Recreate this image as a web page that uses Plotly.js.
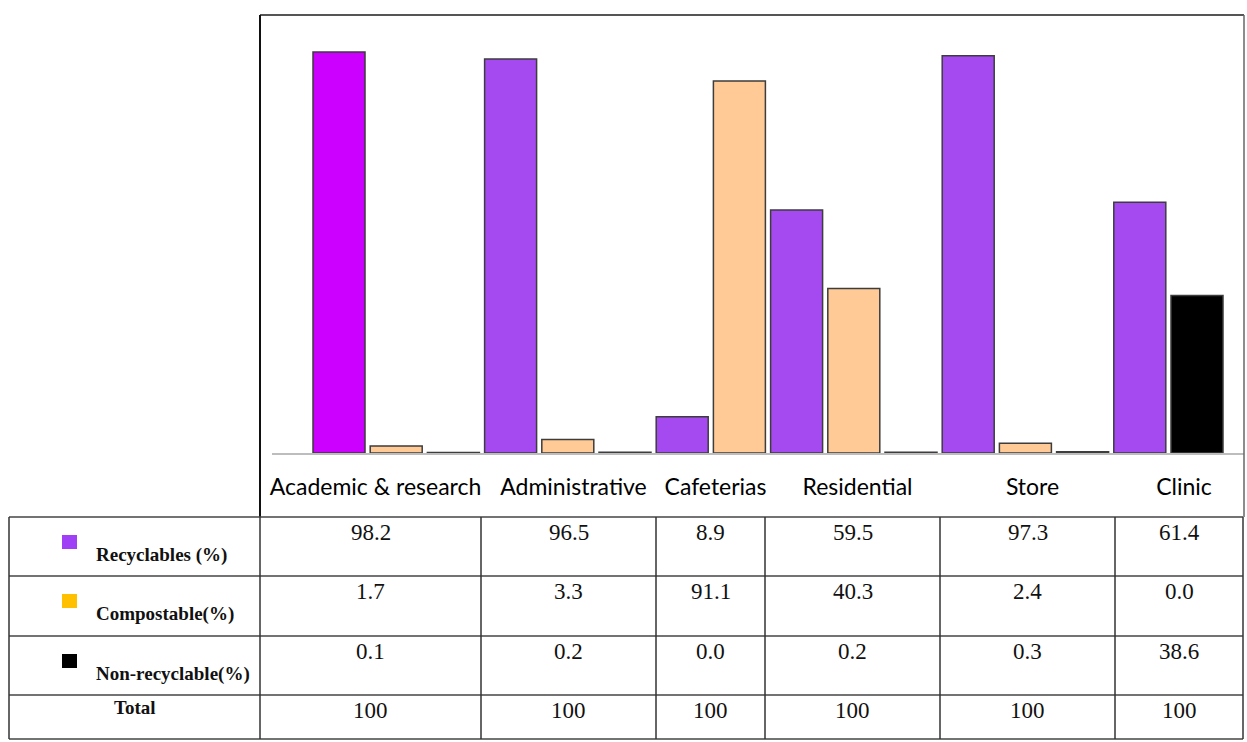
<!DOCTYPE html>
<html>
<head>
<meta charset="utf-8">
<script src="https://cdn.plot.ly/plotly-3.0.1.min.js"></script>
<style>html,body{margin:0;padding:0;background:#fff;}#chart{width:1247px;height:742px;}</style>
</head>
<body>
<div id="chart"></div>
<script>
// ---- data ----
var categories = ["Academic & research", "Administrative", "Cafeterias", "Residential", "Store", "Clinic"];
var seriesNames = ["Recyclables (%)", "Compostable(%)", "Non-recyclable(%)"];
var recyclables = [98.2, 96.5, 8.9, 59.5, 97.3, 61.4];
var compostable = [1.7, 3.3, 91.1, 40.3, 2.4, 0.0];
var nonRecyclable = [0.1, 0.2, 0.0, 0.2, 0.3, 38.6];
var totals = [100, 100, 100, 100, 100, 100];

// ---- styles ----
var W = 1247, H = 742;
var barColors = [
  ["#CC00FF", "#A54AF0", "#A54AF0", "#A54AF0", "#A54AF0", "#A54AF0"],
  "#FFCA96",
  "#000000"
];
var legendColors = ["#A040F6", "#FFC000", "#000000"];
var series = [recyclables, compostable, nonRecyclable];

// slot assignment: every non-zero bar takes one slot, groups are contiguous
var slot = 0;
var traces = [];
var traceX = [[], [], []], traceY = [[], [], []], traceC = [[], [], []];
categories.forEach(function (cat, i) {
  series.forEach(function (vals, s) {
    if (vals[i] > 0) {
      traceX[s].push(slot);
      traceY[s].push(vals[i]);
      var c = barColors[s];
      traceC[s].push(Array.isArray(c) ? c[i] : c);
      slot++;
    }
  });
});
series.forEach(function (vals, s) {
  traces.push({
    type: "bar",
    name: seriesNames[s],
    x: traceX[s],
    y: traceY[s],
    width: 0.909,
    marker: { color: traceC[s], line: { color: "#3d3d3d", width: 1.5 } },
    hoverinfo: "x+y"
  });
});

// pixel helpers (paper coordinates, margins are zero)
function px(x) { return x / W; }
function py(y) { return 1 - y / H; }

var plotLeft = 272, plotRight = 1244, plotTop = 15, baseY = 453;
var slot0px = 339, slotW = 57.2, pxPerUnit = 4.083;

var shapes = [];
var annotations = [];
function line(x0, y0, x1, y1, color, w) {
  shapes.push({ type: "line", xref: "paper", yref: "paper",
    x0: px(x0), y0: py(y0), x1: px(x1), y1: py(y1),
    line: { color: color, width: w } });
}
// chart frame
line(260, 15, 1244, 15, "#555555", 2);
line(260, 15, 260, 517, "#111111", 2);
line(1244, 15, 1244, 517, "#666666", 1.5);

// table grid
var colEdges = [9, 260, 481, 656, 765, 940, 1115, 1243];
var rowEdges = [517, 576, 636, 695, 739];
rowEdges.forEach(function (y) { line(colEdges[0], y, colEdges[colEdges.length - 1], y, "#444444", 1.5); });
colEdges.forEach(function (x) { line(x, rowEdges[0], x, rowEdges[rowEdges.length - 1], "#333333", 1.5); });

// category labels sit over the table columns (converted to axis units)
var tickPos = categories.map(function (c, i) {
  var centerPx = (colEdges[i + 1] + colEdges[i + 2]) / 2 + 5;
  return (centerPx - slot0px) / slotW;
});

var tableRows = [recyclables, compostable, nonRecyclable];
tableRows.forEach(function (vals, r) {
  var top = rowEdges[r];
  shapes.push({ type: "rect", xref: "paper", yref: "paper",
    x0: px(62), x1: px(77), y0: py(top + 18), y1: py(top + 32),
    fillcolor: legendColors[r], line: { width: 0 } });
  annotations.push({ xref: "paper", yref: "paper", x: px(94), y: py(top + 38),
    xanchor: "left", yanchor: "middle", showarrow: false,
    text: "<b>" + seriesNames[r] + "</b>",
    font: { family: "Liberation Serif, Times New Roman, serif", size: 19, color: "#111" } });
  vals.forEach(function (v, i) {
    annotations.push({ xref: "paper", yref: "paper",
      x: px((colEdges[i + 1] + colEdges[i + 2]) / 2), y: py(top + 15),
      xanchor: "center", yanchor: "middle", showarrow: false,
      text: v.toFixed(1),
      font: { family: "Liberation Serif, Times New Roman, serif", size: 23, color: "#111" } });
  });
});
annotations.push({ xref: "paper", yref: "paper", x: px(135), y: py(rowEdges[3] + 12),
  xanchor: "center", yanchor: "middle", showarrow: false, text: "<b>Total</b>",
  font: { family: "Liberation Serif, Times New Roman, serif", size: 19, color: "#111" } });
totals.forEach(function (v, i) {
  annotations.push({ xref: "paper", yref: "paper",
    x: px((colEdges[i + 1] + colEdges[i + 2]) / 2), y: py(rowEdges[3] + 15),
    xanchor: "center", yanchor: "middle", showarrow: false, text: String(v),
    font: { family: "Liberation Serif, Times New Roman, serif", size: 23, color: "#111" } });
});

var layout = {
  width: W, height: H,
  margin: { l: 0, r: 0, t: 0, b: 0, pad: 0 },
  paper_bgcolor: "#ffffff", plot_bgcolor: "#ffffff",
  showlegend: false,
  bargap: 0,
  xaxis: {
    domain: [px(plotLeft), px(plotRight)],
    range: [(plotLeft - slot0px) / slotW, (plotRight - slot0px) / slotW],
    tickvals: tickPos, ticktext: categories,
    ticks: "", ticklabelstandoff: 12,
    tickfont: { family: "Lato, Calibri, sans-serif", size: 23, color: "#000" },
    showline: true, linecolor: "#bdbdbd", linewidth: 2,
    showgrid: false, zeroline: false, fixedrange: true, automargin: false
  },
  yaxis: {
    domain: [py(baseY), py(plotTop)],
    range: [0, (baseY - plotTop) / pxPerUnit],
    visible: false, showgrid: false, zeroline: false, fixedrange: true
  },
  shapes: shapes,
  annotations: annotations
};

Plotly.newPlot("chart", traces, layout, { displayModeBar: false, staticPlot: true });
</script>
</body>
</html>
